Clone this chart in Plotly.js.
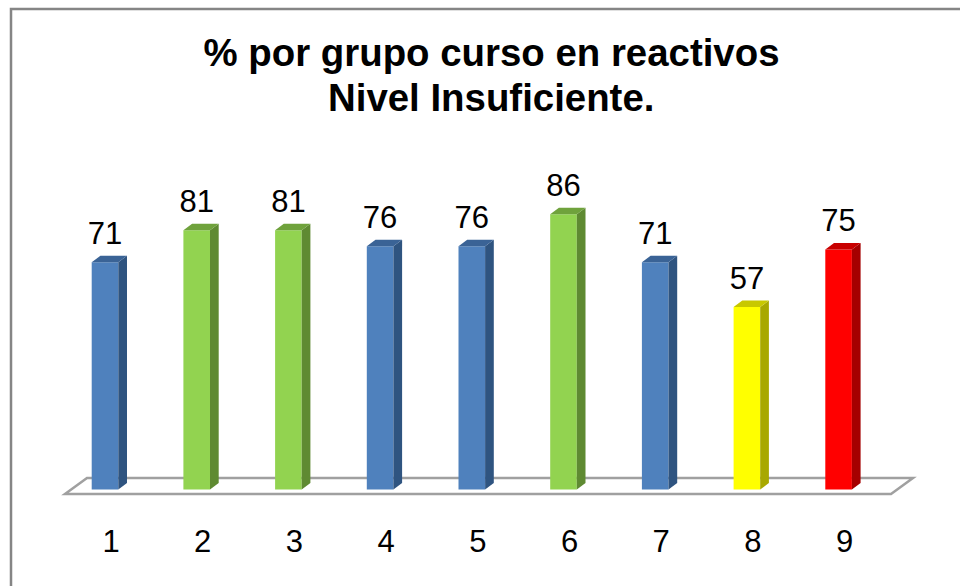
<!DOCTYPE html>
<html><head><meta charset="utf-8">
<script src="https://cdn.plot.ly/plotly-3.0.1.min.js"></script>
<style>html,body{margin:0;padding:0;background:#fff}#c{width:960px;height:586px}</style></head>
<body><div id="c"></div>
<script>
const categories = [1,2,3,4,5,6,7,8,9];
const values = [71,81,81,76,76,86,71,57,75];
const frontColors = ['#4F81BD','#92D350','#92D350','#4F81BD','#4F81BD','#92D350','#4F81BD','#FFFF00','#FF0000'];
const sideColors  = ['#2F5480','#5F8A32','#5F8A32','#2F5480','#2F5480','#5F8A32','#2F5480','#A8A800','#A50000'];
const topColors   = ['#3A6396','#6FA23C','#6FA23C','#3A6396','#3A6396','#6FA23C','#3A6396','#C8C800','#C80000'];
const titleLines = ['% por grupo curso en reactivos','Nivel Insuficiente.'];

const W=960,H=586,bottom=66;
const pxPerCat=91.7, pxPerVal=3.2, zeroPx=489.5, cat1Px=105;
const barW=26.6/pxPerCat, dx=8.7/pxPerCat, dy=6.5/pxPerVal;
const xOf=p=>(p-cat1Px)/pxPerCat+1, yOf=p=>(zeroPx-p)/pxPerVal;
const FONT='"Liberation Sans", Arial, sans-serif';
const traces=[];
traces.push({type:'bar',x:categories,y:values,width:barW,marker:{color:frontColors,line:{width:0}},hoverinfo:'x+y',showlegend:false});
categories.forEach((c,i)=>{
  const r=c+barW/2,l=c-barW/2,v=values[i];
  traces.push({type:'scatter',mode:'lines',x:[r,r+dx,r+dx,r,r],y:[0,dy,v+dy,v,0],fill:'toself',fillcolor:sideColors[i],line:{width:0,color:sideColors[i]},hoverinfo:'skip',showlegend:false});
  traces.push({type:'scatter',mode:'lines',x:[l,r,r+dx,l+dx,l],y:[v,v,v+dy,v+dy,v],fill:'toself',fillcolor:topColors[i],line:{width:0,color:topColors[i]},hoverinfo:'skip',showlegend:false});
});
traces.push({type:'scatter',mode:'text',x:categories,y:values.map(v=>v+dy+4/pxPerVal),text:values.map(String),textposition:'top center',textfont:{family:FONT,size:31,color:'#000'},hoverinfo:'skip',showlegend:false});
const floor=[[65,494],[891,494],[913,478],[87,478]];
const floorPath='M'+floor.map(p=>xOf(p[0])+','+yOf(p[1])).join(' L')+' Z';
const layout={width:W,height:H,margin:{l:0,r:0,t:0,b:bottom,pad:0},paper_bgcolor:'#fff',plot_bgcolor:'#fff',showlegend:false,
 title:{text:titleLines[0],font:{family:FONT,size:38.4,color:'#000',weight:700},x:491.5/W,xanchor:'center',y:1-53/H,yanchor:'middle',xref:'paper',yref:'container'},
 annotations:[{text:titleLines[1],font:{family:FONT,size:38.4,color:'#000',weight:700},xref:'paper',yref:'paper',x:491/W,y:1-97/(H-bottom),xanchor:'center',yanchor:'middle',showarrow:false}],
 xaxis:{range:[xOf(0),xOf(W)],tickmode:'array',tickvals:categories,ticktext:categories.map(String),ticks:'',showgrid:false,zeroline:false,showline:false,tickfont:{family:FONT,size:31,color:'#000'},ticklabelstandoff:0,ticklabelshift:6},
 yaxis:{range:[yOf(H-bottom),yOf(0)],visible:false,showgrid:false,zeroline:false},
 shapes:[
  {type:'path',path:floorPath,xref:'x',yref:'y',line:{color:'#A0A0A0',width:2.5},fillcolor:'rgba(0,0,0,0)',layer:'below'},
  {type:'rect',xref:'paper',yref:'paper',x0:11/W,x1:1.01,y0:-0.2,y1:1-9/(H-bottom),line:{color:'#858585',width:2.5},fillcolor:'rgba(0,0,0,0)',layer:'above'}
 ]};
Plotly.newPlot('c',traces,layout,{displayModeBar:false,staticPlot:true});
</script></body></html>
